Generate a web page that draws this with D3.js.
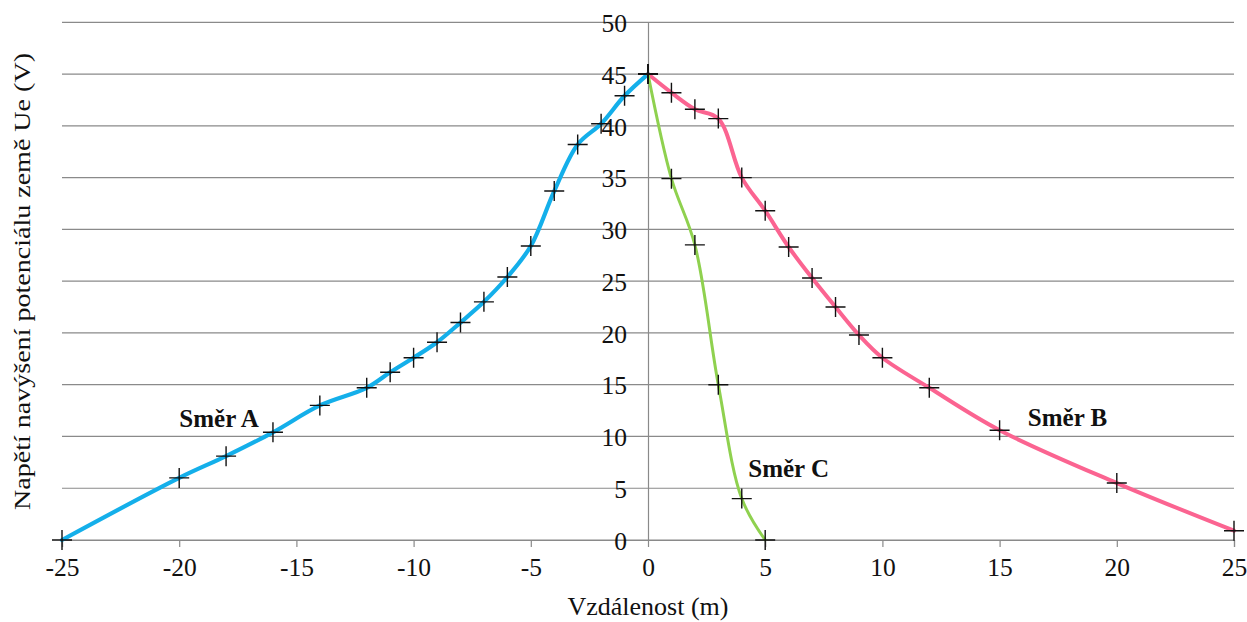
<!DOCTYPE html>
<html>
<head>
<meta charset="utf-8">
<script src="https://cdn.jsdelivr.net/npm/d3@7"></script>
<style>
  html, body { margin: 0; padding: 0; background: #fff; }
  svg { display: block; }
</style>
</head>
<body>
<svg id="chart" width="1247" height="622"></svg>
<script>
// ---- data ----
const xTicks = [-25, -20, -15, -10, -5, 0, 5, 10, 15, 20, 25];
const yTicks = [0, 5, 10, 15, 20, 25, 30, 35, 40, 45, 50];

const aX = [-25, -20, -18, -16, -14, -12, -11, -10, -9, -8, -7, -6, -5, -4, -3, -2, -1, 0];
const aY = [0, 6.0, 8.1, 10.4, 13.0, 14.7, 16.2, 17.6, 19.1, 21.0, 23.0, 25.4, 28.4, 33.7, 38.2, 40.2, 42.9, 45];

const bX = [0, 1, 2, 3, 4, 5, 6, 7, 8, 9, 10, 12, 15, 20, 25];
const bY = [45, 43.2, 41.6, 40.7, 35.0, 31.8, 28.3, 25.3, 22.5, 19.8, 17.6, 14.7, 10.6, 5.5, 0.9];

const cX = [0, 1, 2, 3, 4, 5];
const cY = [45, 34.9, 28.5, 15.0, 4.0, 0];

const seriesNames = ["Směr A", "Směr B", "Směr C"];
const seriesColors = ["#14AFEA", "#FB6491", "#8FD14F"];
const labelX = [-18.3, 17.9, 6.0];
const labelY = [10.9, 11.0, 6.1];

const xTitle = "Vzdálenost (m)";
const yTitle = "Napětí navýšení potenciálu země Ue (V)";

// ---- layout ----
const FONT = "'Liberation Serif', 'Times New Roman', 'DejaVu Serif', serif";
const svg = d3.select("#chart");
const pLeft = 62, pRight = 1234, pTop = 22.3, pBottom = 540;

const x = d3.scaleLinear().domain([-25, 25]).range([pLeft, pRight]);
const y = d3.scaleLinear().domain([0, 50]).range([pBottom, pTop]);

// gridlines
svg.append("g")
  .selectAll("line")
  .data(yTicks)
  .join("line")
  .attr("x1", pLeft).attr("x2", pRight)
  .attr("y1", d => y(d)).attr("y2", d => y(d))
  .attr("stroke", "#8a8a8a").attr("stroke-width", 1.2);

// x axis
const xAxis = svg.append("g")
  .attr("transform", `translate(0,${pBottom})`)
  .call(d3.axisBottom(x).tickValues(xTicks).tickSize(7).tickPadding(11).tickFormat(d => String(d)));
xAxis.select(".domain").attr("stroke", "#8a8a8a").attr("stroke-width", 1.2);
xAxis.selectAll(".tick line").attr("stroke", "#8a8a8a").attr("stroke-width", 1.2);
xAxis.selectAll(".tick text")
  .style("font-family", FONT)
  .style("font-size", "25.5px").attr("fill", "#111");

// y axis at x = 0
const yAxis = svg.append("g")
  .attr("transform", `translate(${x(0)},0)`)
  .call(d3.axisLeft(y).tickValues(yTicks).tickSize(0).tickPadding(21).tickFormat(d => String(d)));
yAxis.select(".domain").attr("stroke", "#8a8a8a").attr("stroke-width", 1.2);
yAxis.selectAll(".tick text")
  .style("font-family", FONT)
  .style("font-size", "25.5px").attr("fill", "#111").attr("dy", "0.36em");

// series
const series = [
  { xs: aX, ys: aY, color: seriesColors[0], w: 4.2 },
  { xs: bX, ys: bY, color: seriesColors[1], w: 4 },
  { xs: cX, ys: cY, color: seriesColors[2], w: 3 }
];

const line = d3.line()
  .x(d => x(d[0])).y(d => y(d[1]))
  .curve(d3.curveCatmullRom.alpha(0.5));

series.forEach(s => {
  const pts = s.xs.map((v, i) => [v, s.ys[i]]);
  svg.append("path")
    .datum(pts)
    .attr("d", line)
    .attr("fill", "none")
    .attr("stroke", s.color)
    .attr("stroke-width", s.w)
    .attr("stroke-linejoin", "round")
    .attr("stroke-linecap", "round");
});

// markers
const ms = 10;
series.forEach(s => {
  const pts = s.xs.map((v, i) => [v, s.ys[i]]);
  const g = svg.append("g");
  g.selectAll("path")
    .data(pts)
    .join("path")
    .attr("d", d => {
      const px = x(d[0]), py = y(d[1]);
      return `M${px - ms},${py}H${px + ms}M${px},${py - ms}V${py + ms}`;
    })
    .attr("stroke", "#111")
    .attr("stroke-width", 1.4)
    .attr("fill", "none");
});

// series labels
svg.append("g")
  .selectAll("text")
  .data(seriesNames)
  .join("text")
  .attr("x", (d, i) => x(labelX[i]))
  .attr("y", (d, i) => y(labelY[i]))
  .attr("text-anchor", "middle")
  .style("font-family", FONT)
  .style("font-size", "25px")
  .style("font-weight", "bold")
  .attr("fill", "#111")
  .text(d => d);

// axis titles
svg.append("text")
  .attr("x", 648)
  .attr("y", 615)
  .attr("text-anchor", "middle")
  .style("font-family", FONT)
  .style("font-size", "26px")
  .attr("fill", "#111")
  .text(xTitle);

svg.append("text")
  .attr("transform", `translate(30,${281.5}) rotate(-90)`)
  .attr("text-anchor", "middle")
  .attr("textLength", 457)
  .attr("lengthAdjust", "spacingAndGlyphs")
  .style("font-family", FONT)
  .style("font-size", "23px")
  .attr("fill", "#111")
  .text(yTitle);
</script>
</body>
</html>
